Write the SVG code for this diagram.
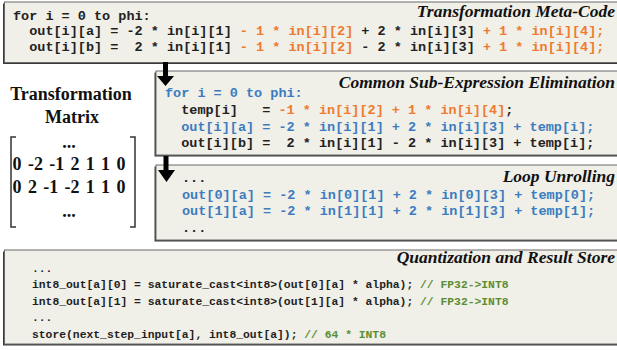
<svg xmlns="http://www.w3.org/2000/svg" width="617" height="350" viewBox="0 0 617 350" xml:space="preserve">
<style>
.shadow{fill:#3a3a3a}
.box{fill:#f0efe8;stroke:#6a6a6a;stroke-width:1}
.code{font-family:"Liberation Mono","Courier New",monospace;font-weight:bold;font-size:13.5px;fill:#222;white-space:pre}
.code4{font-family:"Liberation Mono","Courier New",monospace;font-weight:bold;font-size:11.35px;fill:#222;white-space:pre}
.title{font-family:"Liberation Serif","Times New Roman",serif;font-weight:bold;font-style:italic;font-size:17.5px;fill:#111;text-anchor:end}
.mat{font-family:"Liberation Serif","Times New Roman",serif;font-weight:bold;font-size:18px;fill:#111;text-anchor:middle;white-space:pre}
.row{word-spacing:1.8px}
.or{fill:#ee7b30}
.bl{fill:#3b7cc0}
.gr{fill:#5a8e32}
.arrow{fill:#000}
.brk{fill:none;stroke:#333;stroke-width:1.5}
</style>

<g id="meta-code">
  <rect class="shadow" x="3" y="3.5" width="700" height="60.5"/>
  <rect class="box" x="4.5" y="2" width="700" height="60.5"/>
  <text class="title" x="615" y="17">Transformation Meta-Code</text>
  <text class="code" x="13" y="19.5">for i = 0 to phi:</text>
  <text class="code" x="13" y="35">  out[i][a] = -2 * in[i][1] <tspan class="or">- 1 * in[i][2]</tspan> + 2 * in[i][3] <tspan class="or">+ 1 * in[i][4];</tspan></text>
  <text class="code" x="13" y="50.5">  out[i][b] =  2 * in[i][1] <tspan class="or">- 1 * in[i][2]</tspan> - 2 * in[i][3] <tspan class="or">+ 1 * in[i][4];</tspan></text>
</g>

<g id="matrix">
  <text class="mat" x="71" y="100">Transformation</text>
  <text class="mat" x="72" y="123">Matrix</text>
  <path class="brk" d="M16,137 H11 V227 H16"/>
  <path class="brk" d="M130,137 H135 V227 H130"/>
  <text class="mat" x="69" y="148">...</text>
  <text class="mat row" x="69" y="170">0 -2 -1 2 1 1 0</text>
  <text class="mat row" x="69" y="193">0 2 -1 -2 1 1 0</text>
  <text class="mat" x="69" y="217">...</text>
</g>

<g id="cse">
  <rect class="shadow" x="154.5" y="72.5" width="600" height="84"/>
  <rect class="box" x="156" y="71" width="600" height="84"/>
  <text class="title" x="615" y="88">Common Sub-Expression Elimination</text>
  <text class="code bl" x="165" y="97">for i = 0 to phi:</text>
  <text class="code" x="165" y="114">  temp[i]   = <tspan class="or">-1 * in[i][2] + 1 * in[i][4]</tspan>;</text>
  <text class="code bl" x="165" y="131">  out[i][a] = -2 * in[i][1] + 2 * in[i][3] + temp[i];</text>
  <text class="code" x="165" y="147">  out[i][b] =  2 * in[i][1] - 2 * in[i][3] + temp[i];</text>
</g>

<g id="unroll">
  <rect class="shadow" x="154.5" y="166.5" width="600" height="75"/>
  <rect class="box" x="156" y="165" width="600" height="75"/>
  <text class="title" x="615" y="182">Loop Unrolling</text>
  <text class="code" x="182" y="182">...</text>
  <text class="code bl" x="182" y="199">out[0][a] = -2 * in[0][1] + 2 * in[0][3] + temp[0];</text>
  <text class="code bl" x="182" y="215">out[1][a] = -2 * in[1][1] + 2 * in[1][3] + temp[1];</text>
  <text class="code" x="182" y="232">...</text>
</g>

<g id="quant">
  <rect class="shadow" x="3" y="251.5" width="700" height="94"/>
  <rect class="box" x="4.5" y="250" width="700" height="94"/>
  <text class="title" x="615" y="263">Quantization and Result Store</text>
  <text class="code4" x="32" y="272">...</text>
  <text class="code4" x="32" y="288">int8_out[a][0] = saturate_cast&lt;int8&gt;(out[0][a] * alpha); <tspan class="gr">// FP32-&gt;INT8</tspan></text>
  <text class="code4" x="32" y="305">int8_out[a][1] = saturate_cast&lt;int8&gt;(out[1][a] * alpha); <tspan class="gr">// FP32-&gt;INT8</tspan></text>
  <text class="code4" x="32" y="321">...</text>
  <text class="code4" x="32" y="338">store(next_step_input[a], int8_out[a]); <tspan class="gr">// 64 * INT8</tspan></text>
</g>

<g id="connectors">
  <path class="arrow" d="M163,62 H168 V76 H174 L165.5,86 L157,76 H163 Z"/>
  <path class="arrow" d="M163.5,156 H168.5 V170 H175 L166.5,182 L158,170 H163.5 Z"/>
</g>
</svg>
